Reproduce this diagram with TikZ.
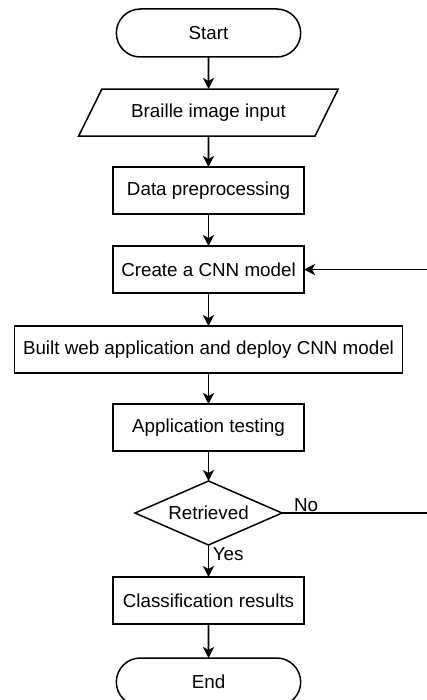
\documentclass[tikz,border=0pt]{standalone}
\usepackage{fontspec}
\setmainfont{Liberation Sans}
\usetikzlibrary{positioning, arrows.meta, shapes.geometric, shapes.misc}

\begin{document}
\begin{tikzpicture}[
  x=1pt, y=1pt,
  node distance=32pt,
  every node/.style={font=\fontsize{18.8}{22}\selectfont, line width=1.5pt, outer sep=0pt},
  term/.style={draw, rounded rectangle, minimum width=191pt, minimum height=48pt},
  proc/.style={draw, rectangle, minimum width=191pt, minimum height=47pt, inner sep=2pt},
  io/.style={draw, trapezium, trapezium left angle=54, trapezium right angle=126,
             trapezium stretches=true, minimum width=260pt, minimum height=47pt},
  decide/.style={draw, diamond, aspect=2.3, minimum width=147pt, minimum height=64pt,
                 inner sep=0pt},
  arr/.style={-{Stealth[length=11pt, width=11pt, inset=3pt]}, line width=1.8pt}
]
\useasboundingbox (0,0) rectangle (427,-700);

\node[term] (start) at (208.5,-33) {Start};
\node[io, below=of start] (input) {Braille image input};
\node[proc, below=31pt of input] (prep) {Data preprocessing};
\node[proc, below=of prep] (cnn) {Create a CNN model};
\node[proc, minimum width=388pt, below=33pt of cnn] (web) {Built web application and deploy CNN model};
\node[proc, below=31pt of web] (test) {Application testing};
\node[decide, below=30pt of test] (ret) {Retrieved};
\node[proc, below=of ret] (cls) {Classification results};
\node[term, below=34pt of cls] (stop) {End};

\draw[arr] (start) -- (input);
\draw[arr] (input) -- (prep);
\draw[arr] (prep) -- (cnn);
\draw[arr] (cnn) -- (web);
\draw[arr] (web) -- (test);
\draw[arr] (test) -- (ret);
\draw[arr] (ret) -- node[pos=0.3, right=1pt] {Yes} (cls);
\draw[arr] (cls) -- (stop);
% loop back when not retrieved
\draw[arr] (ret.east) -- node[pos=0, above right, xshift=11pt, inner sep=1pt] {No} ++(160,0) |- (cnn.east);
\end{tikzpicture}
\end{document}
